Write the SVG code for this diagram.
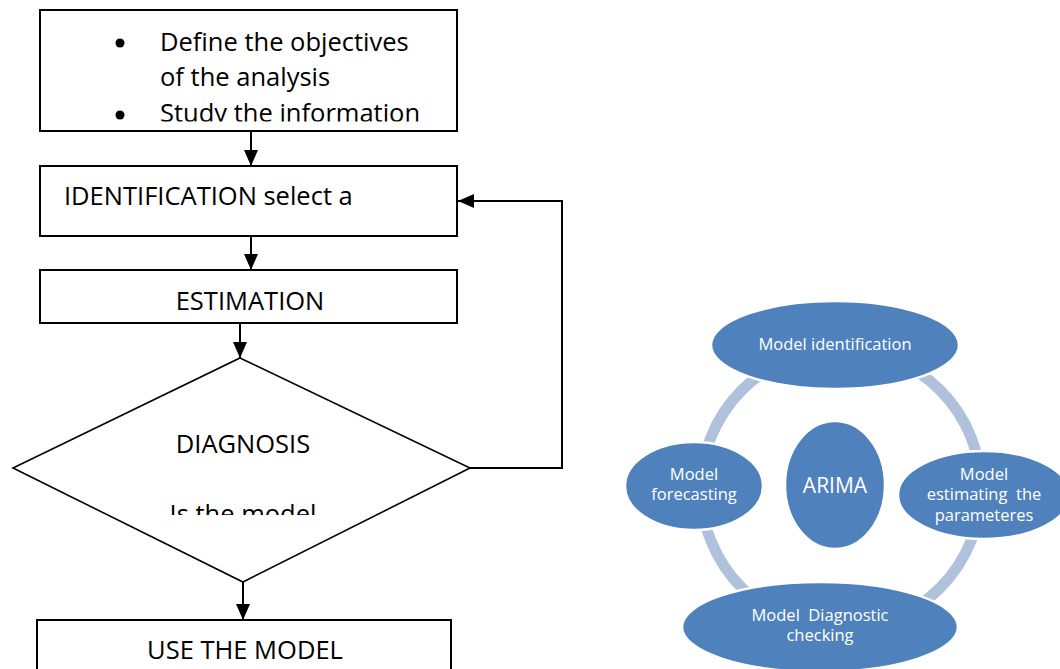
<svg xmlns="http://www.w3.org/2000/svg" width="1060" height="669" viewBox="0 0 1060 669">
<style>
.box{fill:#fff;stroke:#000;stroke-width:2}
.dia{fill:#fff;stroke:#000;stroke-width:1.6}
.t{font-family:"Open Sans","Liberation Sans",sans-serif;font-size:25.5px;fill:#000}
.c{stroke:#000;stroke-width:2;fill:none}
.e{fill:#4F81BD;stroke:#fff;stroke-width:2.5}
.w{font-family:"Open Sans","Liberation Sans",sans-serif;font-size:16.5px;fill:#fff;text-anchor:middle}
</style>
<defs>
<marker id="ah" markerUnits="userSpaceOnUse" markerWidth="16" markerHeight="14" refX="16" refY="7" orient="auto">
<path d="M0,0 L16,7 L0,14 z" fill="#000"/>
</marker>
<clipPath id="clip1"><rect x="40" y="10" width="417" height="111.5"/></clipPath>
<clipPath id="clip2"><rect x="13" y="358" width="457" height="157"/></clipPath>
</defs>
<rect width="1060" height="669" fill="#fff"/>

<g id="connectors">
<line class="c" x1="251" y1="131" x2="251" y2="166" marker-end="url(#ah)"/>
<line class="c" x1="251" y1="236" x2="251" y2="270" marker-end="url(#ah)"/>
<line class="c" x1="240" y1="323" x2="240" y2="358" marker-end="url(#ah)"/>
<line class="c" x1="243" y1="582" x2="243" y2="620" marker-end="url(#ah)"/>
<polyline class="c" points="470,468 562,468 562,201 458,201" marker-end="url(#ah)"/>
</g>

<g id="node-start">
<rect class="box" x="40" y="10" width="417" height="121"/>
<g clip-path="url(#clip1)">
<circle cx="120" cy="43" r="4.5" fill="#000"/>
<circle cx="120" cy="115" r="4.5" fill="#000"/>
<text class="t" x="160" y="51">Define the objectives</text>
<text class="t" x="160" y="86">of the analysis</text>
<text class="t" x="160" y="122">Study the information</text>
</g>
</g>

<g id="node-identification">
<rect class="box" x="40" y="166" width="417" height="70"/>
<text class="t" x="64" y="205">IDENTIFICATION select a</text>
</g>

<g id="node-estimation">
<rect class="box" x="40" y="270" width="417" height="53"/>
<text class="t" x="250" y="310" text-anchor="middle">ESTIMATION</text>
</g>

<g id="node-diagnosis">
<polygon class="dia" points="240,358 470,468 243,582 13,468"/>
<text class="t" x="243" y="453" text-anchor="middle">DIAGNOSIS</text>
<g clip-path="url(#clip2)">
<text class="t" x="243" y="523" text-anchor="middle">Is the model</text>
</g>
</g>

<g id="node-use">
<rect class="box" x="37" y="620" width="414" height="60"/>
<text class="t" x="245" y="659" text-anchor="middle">USE THE MODEL</text>
</g>

<g id="ring">
<circle cx="841" cy="489" r="140" fill="none" stroke="#B0C1DC" stroke-width="11"/>
</g>

<g id="node-arima">
<ellipse class="e" cx="835" cy="485" rx="50" ry="64"/>
<text class="w" x="835" y="493" style="font-size:21px">ARIMA</text>
</g>

<g id="node-identification-cycle">
<ellipse class="e" cx="835" cy="345" rx="124" ry="44"/>
<text class="w" x="835" y="350">Model identification</text>
</g>

<g id="node-estimating">
<ellipse class="e" cx="984" cy="495" rx="86" ry="44"/>
<text class="w" x="984" y="480">Model</text>
<text class="w" x="984" y="500" xml:space="preserve">estimating  the</text>
<text class="w" x="984" y="521">parameteres</text>
</g>

<g id="node-diagnostic">
<ellipse class="e" cx="820" cy="627" rx="138" ry="45"/>
<text class="w" x="820" y="621" xml:space="preserve">Model  Diagnostic</text>
<text class="w" x="820" y="641">checking</text>
</g>

<g id="node-forecasting">
<ellipse class="e" cx="694" cy="486" rx="69" ry="44"/>
<text class="w" x="694" y="480">Model</text>
<text class="w" x="694" y="500">forecasting</text>
</g>
</svg>
